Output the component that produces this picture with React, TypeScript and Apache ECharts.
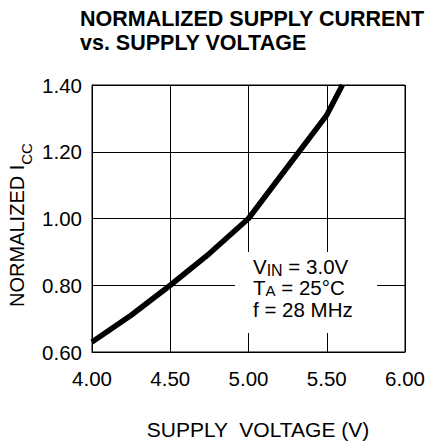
import React, { useEffect, useRef } from "react";
import * as echarts from "echarts";

const voltage = [4.0, 4.25, 4.5, 4.75, 5.0, 5.25, 5.5, 5.6];
const normIcc = [0.63, 0.71, 0.8, 0.895, 1.0, 1.155, 1.31, 1.4];
const xTicks = [4.0, 4.5, 5.0, 5.5, 6.0];
const yTicks = [0.6, 0.8, 1.0, 1.2, 1.4];
const titleLines = ["NORMALIZED SUPPLY CURRENT", "vs. SUPPLY VOLTAGE"];
const xName = "SUPPLY  VOLTAGE (V)";

const FONT = "'Liberation Sans', Arial, Helvetica, sans-serif";

export default function App() {
  const ref = useRef<HTMLDivElement>(null);
  useEffect(() => {
    if (!ref.current) return;
    const chart = echarts.init(ref.current, null, { renderer: "svg" });
    const data = voltage.map((v, i) => [v, normIcc[i]]);
    const subRich = (size: number, pad: number) => ({
      m: { fontSize: 20.5, lineHeight: 20, fontFamily: FONT, fill: "#000" },
      s: { fontSize: size, lineHeight: 14, fontFamily: FONT, fill: "#000", padding: [pad, 0, 0, 0] },
    });
    chart.setOption({
      animation: false,
      backgroundColor: "#ffffff",
      grid: {
        left: 92,
        top: 85,
        width: 313,
        height: 267,
        show: true,
        borderColor: "#000",
        borderWidth: 1,
        backgroundColor: "transparent",
      },
      xAxis: {
        type: "value",
        min: xTicks[0],
        max: xTicks[xTicks.length - 1],
        interval: 0.5,
        axisLine: { show: true, lineStyle: { color: "#000", width: 1 } },
        axisTick: { show: false },
        splitLine: { show: true, lineStyle: { color: "#000", width: 1 } },
        axisLabel: {
          color: "#000",
          fontSize: 20.5,
          fontFamily: FONT,
          margin: 16,
          formatter: (v: number) => v.toFixed(2),
        },
      },
      yAxis: {
        type: "value",
        min: yTicks[0],
        max: yTicks[yTicks.length - 1],
        interval: 0.2,
        axisLine: { show: true, lineStyle: { color: "#000", width: 1 } },
        axisTick: { show: false },
        splitLine: { show: true, lineStyle: { color: "#000", width: 1 } },
        axisLabel: {
          color: "#000",
          fontSize: 20.5,
          fontFamily: FONT,
          margin: 10,
          formatter: (v: number) => v.toFixed(2),
        },
      },
      series: [
        {
          type: "line",
          data,
          showSymbol: false,
          symbol: "none",
          clip: false,
          lineStyle: { color: "#000", width: 5.5 },
          z: 10,
        },
      ],
      graphic: [
        {
          type: "text",
          left: 80,
          top: 6.5,
          style: {
            text: titleLines.join("\n"),
            fontSize: 21.5,
            fontWeight: "bold",
            fontFamily: FONT,
            lineHeight: 24,
            fill: "#000",
          },
          z: 100,
        },
        {
          type: "text",
          x: 258,
          y: 429,
          style: {
            text: xName,
            fontSize: 21,
            fontFamily: FONT,
            fill: "#000",
            align: "center",
            verticalAlign: "middle",
          },
          z: 100,
        },
        {
          type: "text",
          x: 17,
          y: 225,
          rotation: Math.PI / 2,
          style: {
            text: "{m|NORMALIZED I}{s|CC}",
            align: "center",
            verticalAlign: "middle",
            fill: "#000",
            rich: {
              m: { fontSize: 20, lineHeight: 20, fontFamily: FONT, fill: "#000" },
              s: { fontSize: 15, lineHeight: 15, fontFamily: FONT, fill: "#000", padding: [18, 0, 0, 0] },
            },
          },
          z: 100,
        },
        {
          type: "rect",
          shape: { x: 235, y: 252, width: 142, height: 81 },
          style: { fill: "#fff" },
          z: 50,
        },
        {
          type: "text",
          x: 253,
          y: 266,
          style: {
            text: "{m|V}{s|IN}{m| = 3.0V}",
            align: "left",
            verticalAlign: "middle",
            fill: "#000",
            rich: subRich(16, 9),
          },
          z: 100,
        },
        {
          type: "text",
          x: 253,
          y: 287,
          style: {
            text: "{m|T}{s|A}{m| = 25°C}",
            align: "left",
            verticalAlign: "middle",
            fill: "#000",
            rich: subRich(15, 7),
          },
          z: 100,
        },
        {
          type: "text",
          x: 253,
          y: 309.5,
          style: {
            text: "f = 28 MHz",
            fontSize: 20.5,
            fontFamily: FONT,
            fill: "#000",
            align: "left",
            verticalAlign: "middle",
          },
          z: 100,
        },
      ],
    });
    return () => chart.dispose();
  }, []);
  return (
    <div
      ref={ref}
      style={{ position: "fixed", left: 0, top: 0, width: 428, height: 445, background: "#fff" }}
    />
  );
}
